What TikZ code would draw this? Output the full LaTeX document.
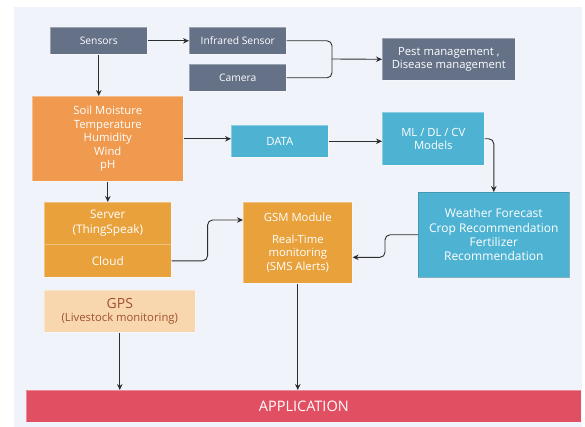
\documentclass[tikz,border=0pt]{standalone}
\usepackage{fontspec}
\setmainfont{Open Sans}
\usetikzlibrary{arrows.meta,calc}
\definecolor{bgc}{RGB}{240,243,249}
\definecolor{slate}{RGB}{100,113,135}
\definecolor{soilc}{RGB}{239,154,79}
\definecolor{amber}{RGB}{233,162,59}
\definecolor{bluec}{RGB}{78,179,210}
\definecolor{peach}{RGB}{248,215,175}
\definecolor{brownt}{RGB}{160,82,45}
\definecolor{appc}{RGB}{225,79,98}
\definecolor{linec}{RGB}{45,45,45}
\tikzset{
  box/.style={anchor=north west, inner sep=0pt, text=white, align=center,
    font=\fontsize{11.3}{13.6}\selectfont, draw=white, draw opacity=0.35, line width=0.6pt},
  small/.style={font=\fontsize{10.3}{12}\selectfont},
  arr/.style={draw=linec, line width=0.9pt, -{Stealth[length=6pt,width=5.5pt]}, rounded corners=5pt},
  ln/.style={draw=linec, line width=0.9pt, rounded corners=5pt}
}
\begin{document}
\begin{tikzpicture}[x=1pt,y=-1pt]
\useasboundingbox (0,0) rectangle (585,427);
\fill[white] (0,0) rectangle (585,427);
\fill[bgc] (14,7) rectangle (582,427);

\node[box, small, fill=slate, minimum width=97, minimum height=27] (sensors) at (50,27) {Sensors};
\node[box, small, fill=slate, minimum width=97, minimum height=27] (infra) at (189,27) {Infrared Sensor};
\node[box, small, fill=slate, minimum width=97, minimum height=27] (camera) at (189,64) {Camera};
\node[box, fill=slate, minimum width=133, minimum height=42] (pest) at (382,38) {Pest management ,\\ Disease management};

\node[box, fill=soilc, minimum width=151, minimum height=85] (soil) at (32,96) {Soil Moisture\\Temperature\\Humidity\\Wind\\pH};
\node[box, fill=bluec, minimum width=97, minimum height=32] (data) at (231,125) {DATA};
\node[box, fill=bluec, minimum width=102, minimum height=53] (ml) at (382,112) {ML / DL / CV\\Models};
\node[box, fill=bluec, draw=bluec!75!black, draw opacity=0.6, minimum width=151, minimum height=85,
  font=\fontsize{12}{14.3}\selectfont] (weather) at (418,192) {Weather Forecast\\Crop Recommendation\\Fertilizer\\Recommendation};

\node[box, fill=amber, minimum width=127, minimum height=42, font=\fontsize{11.8}{15}\selectfont] (server) at (44,202) {Server\\(ThingSpeak)};
\node[box, fill=amber, minimum width=127, minimum height=33, font=\fontsize{11.8}{15}\selectfont] (cloud) at (44,244) {Cloud};
\node[box, fill=amber, minimum width=109, minimum height=81] (gsm) at (243,202) {GSM Module\\[8pt]Real-Time\\monitoring\\(SMS Alerts)};

\node[box, fill=peach, text=brownt, minimum width=151, minimum height=42] (gps) at (44,290)
  {{\fontsize{14}{16}\selectfont GPS}\\[0pt](Livestock monitoring)};
\node[box, fill=appc, minimum width=555, minimum height=32, font=\fontsize{14.5}{16}\selectfont] (app) at (26,390) {APPLICATION};

\coordinate (brace) at (332,59);
\draw[arr] (sensors.east) -- (infra.west);
\draw[arr] (sensors.south) -- (sensors.south |- soil.north);
\draw[ln] (infra.east) -| (brace);
\draw[ln] (camera.east) -| (brace);
\draw[arr] (brace) -- (pest.west);
\draw[arr] (soil.east) -- (soil.east -| data.west);
\draw[arr] (data.east) -- (data.east -| ml.west);
\draw[arr] (ml.east) -| (weather.north);
\draw[arr] (soil.south) -- (server.north);
\draw[arr] (cloud.east) -- ++(36,0) |- ($(gsm.north west)+(0,18)$);
\draw[arr] (weather.west) -- ++(-33,0) |- ($(gsm.east)+(0,14.5)$);
\draw[arr] (gps.south) -- (gps.south |- app.north);
\draw[arr] (gsm.south) -- (gsm.south |- app.north);
\end{tikzpicture}
\end{document}
